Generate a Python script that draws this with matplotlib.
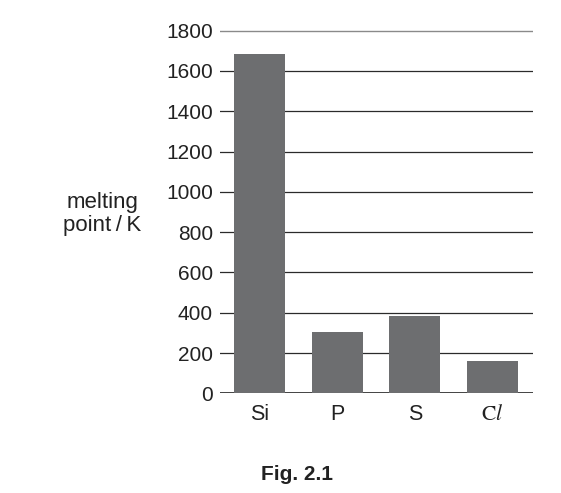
import matplotlib
matplotlib.use("Agg")
import matplotlib.pyplot as plt

plt.rcParams['font.family'] = ['Liberation Sans', 'DejaVu Sans']
plt.rcParams['mathtext.fontset'] = 'stix'

# Data
elements = ['Si', 'P', 'S', r'$\mathrm{C}\mathit{l}$']
melting_points = [1682, 306, 385, 162]
y_ticks = [0, 200, 400, 600, 800, 1000, 1200, 1400, 1600, 1800]

fig = plt.figure(figsize=(5.61, 4.93), dpi=100)
W, H = 561, 493
ax = fig.add_axes([220 / W, 1 - 393.3 / H, (533 - 220) / W, (393.3 - 30) / H])

# grid lines (first one black baseline, top one lighter)
for v in y_ticks:
    if v == 0:
        col, lw = '#111111', 1.1
    elif v == y_ticks[-1]:
        col, lw = '#8a8a8a', 1.0
    else:
        col, lw = '#2b2b2b', 0.9
    ax.axhline(v, color=col, lw=lw, zorder=1)

x = range(len(elements))
ax.bar(x, melting_points, width=0.656, color='#6d6e70', zorder=2)

ax.set_xlim(-0.508, 3.52)
ax.set_ylim(0, 1803)
ax.set_yticks(y_ticks)
ax.set_yticklabels([str(v) for v in y_ticks], fontsize=15, color='#222222')
ax.set_xticks(list(x))
ax.set_xticklabels(elements, fontsize=15.5, color='#222222')
ax.tick_params(axis='y', length=0, pad=5)
ax.tick_params(axis='x', length=0, pad=8)
for s in ax.spines.values():
    s.set_visible(False)

fig.text(102 / W, 1 - 214 / H, 'melting\npoint\u2009/\u2009K', ha='center', va='center',
         fontsize=16, color='#222222', linespacing=1.15)
fig.text(297 / W, 1 - 474 / H, 'Fig. 2.1', ha='center', va='center',
         fontsize=15, fontweight='bold', color='#222222')

fig.savefig('out.png', dpi=100)
